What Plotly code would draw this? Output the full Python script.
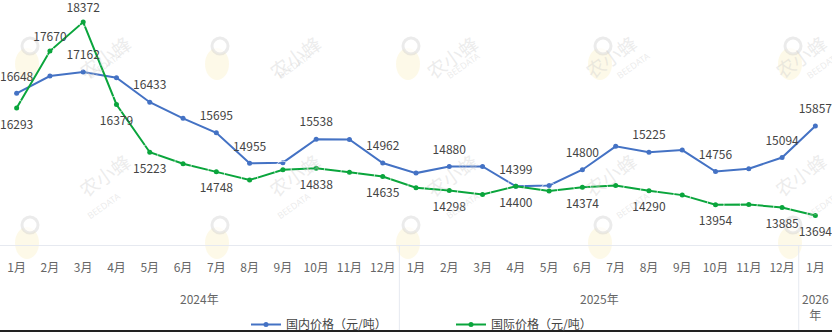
import plotly.graph_objects as go

# ---- data ----
months = ["1月", "2月", "3月", "4月", "5月", "6月", "7月", "8月", "9月", "10月", "11月", "12月",
          "1月", "2月", "3月", "4月", "5月", "6月", "7月", "8月", "9月", "10月", "11月", "12月",
          "1月"]
years = ["2024年", "2025年", "2026<br>年"]
year_spans = [(0, 11), (12, 23), (24, 24)]

domestic = [16648, 17067, 17162, 17026, 16433, 16044, 15695, 14955, 14970, 15538, 15530, 14962,
            14718, 14880, 14880, 14399, 14420, 14800, 15365, 15225, 15275, 14756, 14825, 15094,
            15857]
international = [16293, 17670, 18372, 16379, 15223, 14945, 14748, 14550, 14800, 14838, 14740, 14635,
                 14365, 14298, 14200, 14400, 14285, 14374, 14420, 14290, 14185, 13954, 13960, 13885,
                 13694]

dom_label_idx = [0, 2, 4, 6, 7, 9, 11, 13, 15, 17, 19, 21, 23, 24]
intl_label_idx = [0, 1, 2, 3, 4, 6, 9, 11, 13, 15, 17, 19, 21, 23, 24]
intl_top_idx = [1, 2]

series_names = ["国内价格（元/吨）", "国际价格（元/吨）"]
colors = ["#4472C4", "#0AA53C"]

x = list(range(len(months)))
W, H = 832, 332
PLOT_BOTTOM = 245  # pixel

dom_text = [f"{v}" if i in dom_label_idx else "" for i, v in enumerate(domestic)]
intl_text = [f"{v}" if i in intl_label_idx else "" for i, v in enumerate(international)]
intl_pos = ["top center" if i in intl_top_idx else "bottom center" for i in x]
intl_label_gap = [9 if i in intl_top_idx else 17 for i in x]

fig = go.Figure()
for vals, name, col in zip([domestic, international], series_names, colors):
    fig.add_trace(go.Scatter(
        x=x, y=vals, name=name, mode="lines+markers",
        line=dict(color=col, width=2), marker=dict(size=5, color=col),
    ))
# value labels (transparent larger markers give the label offset)
fig.add_trace(go.Scatter(
    x=x, y=domestic, mode="markers+text", showlegend=False, hoverinfo="skip",
    marker=dict(size=14, color="rgba(0,0,0,0)"),
    text=dom_text, textposition="top center",
    textfont=dict(size=12, color="#444444"), cliponaxis=False,
))
fig.add_trace(go.Scatter(
    x=x, y=international, mode="markers+text", showlegend=False, hoverinfo="skip",
    marker=dict(size=intl_label_gap, color="rgba(0,0,0,0)"),
    text=intl_text, textposition=intl_pos,
    textfont=dict(size=12, color="#444444"), cliponaxis=False,
))

def py(p):
    return (PLOT_BOTTOM - p) / PLOT_BOTTOM

shapes = []
annotations = []

# group separators
for s, e in year_spans[:-1]:
    shapes.append(dict(type="line", xref="x", yref="paper", x0=e + 0.5, x1=e + 0.5,
                       y0=0, y1=py(330), line=dict(color="#E6E9F0", width=1)))
# year labels
for (s, e), name in zip(year_spans, years):
    annotations.append(dict(xref="x", yref="paper", x=(s + e) / 2, y=py(288), yanchor="top",
                            text=name, showarrow=False, font=dict(size=12, color="#666666")))
# bottom frame line
shapes.append(dict(type="line", xref="paper", yref="paper", x0=0, x1=1, y0=py(331), y1=py(331),
                   line=dict(color="#222222", width=2)))

# watermarks
for row_y in (58, 237):
    for bx in (27, 217, 408, 600, 790):
        shapes.append(dict(type="circle", xref="paper", yref="paper", xsizemode="pixel",
                           ysizemode="pixel", xanchor=bx / W, yanchor=py(row_y),
                           x0=-12, x1=12, y0=-22, y1=10, layer="below",
                           fillcolor="rgba(248,228,150,0.22)", line=dict(width=0)))
        shapes.append(dict(type="circle", xref="paper", yref="paper", xsizemode="pixel",
                           ysizemode="pixel", xanchor=(bx + 3) / W, yanchor=py(row_y - 12),
                           x0=-8, x1=8, y0=-8, y1=8, layer="below",
                           fillcolor="rgba(255,255,255,0.7)",
                           line=dict(color="rgba(205,205,205,0.40)", width=3)))
        annotations.append(dict(xref="paper", yref="paper", x=(bx + 44) / W, y=py(row_y - 32),
                                text="农小蜂", showarrow=False, textangle=-35,
                                font=dict(size=19, color="rgba(205,205,205,0.38)",
                                          family="Noto Sans CJK SC")))
        annotations.append(dict(xref="paper", yref="paper", x=(bx + 55) / W, y=py(row_y - 12),
                                text="BEEDATA", showarrow=False, textangle=-35,
                                font=dict(size=9, color="rgba(205,205,205,0.38)",
                                          family="Noto Sans")))

fig.update_layout(
    width=W, height=H,
    margin=dict(l=0, r=0, t=0, b=H - PLOT_BOTTOM, autoexpand=False),
    paper_bgcolor="white", plot_bgcolor="white",
    font=dict(family="Noto Sans CJK SC, Noto Sans, sans-serif", size=12, color="#666666"),
    showlegend=True,
    legend=dict(orientation="h", x=246 / W, xanchor="left", y=py(310), yanchor="top",
                entrywidth=160, entrywidthmode="pixels", font=dict(size=12, color="#444444"),
                bgcolor="rgba(0,0,0,0)", itemwidth=30, tracegroupgap=0),
    xaxis=dict(range=[-0.5, len(months) - 0.5], tickmode="array", tickvals=x, ticktext=months,
               showgrid=False, zeroline=False, showline=True, linecolor="#E6E9F0", linewidth=1,
               ticks="", ticklabelstandoff=12, tickfont=dict(size=12, color="#666666"),
               fixedrange=True),
    yaxis=dict(range=[12978, 18907], showgrid=False, zeroline=False, showticklabels=False,
               showline=False, fixedrange=True),
    shapes=shapes, annotations=annotations,
)

fig.write_html("out.html")
